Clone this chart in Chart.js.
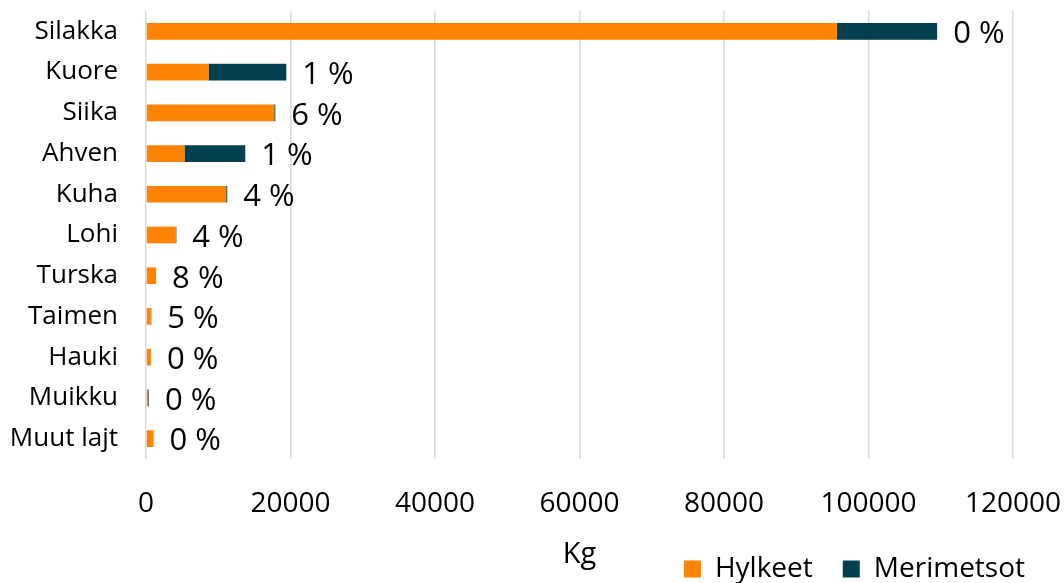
<!DOCTYPE html>
<html>
<head>
<meta charset="utf-8">
<script src="https://cdn.jsdelivr.net/npm/chart.js@4"></script>
<style>
  html, body { margin: 0; padding: 0; background: #fff; }
  #wrap { width: 1064px; height: 583px; }
</style>
</head>
<body>
<div id="wrap"><canvas id="catchChart"></canvas></div>
<script>
// Fish species (top to bottom)
const species = ['Silakka', 'Kuore', 'Siika', 'Ahven', 'Kuha', 'Lohi', 'Turska', 'Taimen', 'Hauki', 'Muikku', 'Muut lajt'];

// Kg eaten / damaged
const hylkeet    = [95600, 8650, 17750, 5330, 11100, 4100, 1400, 650, 650, 300, 1050];
const merimetsot = [13900, 10770, 150, 8410, 150, 100, 0, 80, 50, 100, 0];

// Percentage labels shown at the end of each bar
const shareLabels = ['0 %', '1 %', '6 %', '1 %', '4 %', '4 %', '8 %', '5 %', '0 %', '0 %', '0 %'];

const FONT = '"Open Sans", "Noto Sans", sans-serif';

// Draws the % text just past the end of the stacked bar
const endLabels = {
    id: 'endLabels',
    afterDatasetsDraw(chart) {
        const ctx = chart.ctx;
        const top = chart.getDatasetMeta(1).data;
        ctx.save();
        ctx.font = '31px ' + FONT;
        ctx.fillStyle = '#000';
        ctx.textAlign = 'left';
        ctx.textBaseline = 'middle';
        top.forEach((bar, i) => {
            ctx.fillText(shareLabels[i], bar.x + 16, bar.y + 3);
        });
        ctx.restore();
    }
};

new Chart(document.getElementById('catchChart'), {
    type: 'bar',
    data: {
        labels: species,
        datasets: [
            {
                label: 'Hylkeet',
                data: hylkeet,
                backgroundColor: '#FF8300',
                categoryPercentage: 1,
                barPercentage: 0.41
            },
            {
                label: 'Merimetsot',
                data: merimetsot,
                backgroundColor: '#02404F',
                categoryPercentage: 1,
                barPercentage: 0.41
            }
        ]
    },
    options: {
        indexAxis: 'y',
        responsive: true,
        maintainAspectRatio: false,
        animation: false,
        layout: { padding: { left: 8, right: 9, top: 11, bottom: -10 } },
        scales: {
            x: {
                stacked: true,
                min: 0,
                max: 120000,
                ticks: {
                    stepSize: 20000,
                    color: '#000',
                    font: { family: FONT, size: 28 },
                    padding: 28,
                    callback: v => v
                },
                grid: { color: '#d9d9d9', lineWidth: 1.5, drawTicks: false },
                border: { display: false },
                title: {
                    display: true,
                    text: 'Kg',
                    color: '#000',
                    font: { family: FONT, size: 29 },
                    padding: { top: 0, bottom: -47 }
                },
                afterFit(scale) {
                    scale.height = 66;
                    scale.paddingLeft = 0;
                    scale.paddingRight = 51;
                }
            },
            y: {
                stacked: true,
                ticks: {
                    color: '#000',
                    font: { family: FONT, size: 26 },
                    padding: 28
                },
                grid: { display: false, drawTicks: false },
                border: { display: false },
                afterFit(scale) {
                    scale.width = 138;
                    scale.paddingTop = 0;
                    scale.paddingBottom = 0;
                }
            }
        },
        plugins: {
            legend: {
                position: 'bottom',
                align: 'end',
                labels: {
                    boxWidth: 17,
                    boxHeight: 17,
                    color: '#000',
                    font: { family: FONT, size: 28 },
                    padding: 30
                }
            },
            tooltip: { enabled: false }
        }
    },
    plugins: [endLabels]
});
</script>
</body>
</html>
